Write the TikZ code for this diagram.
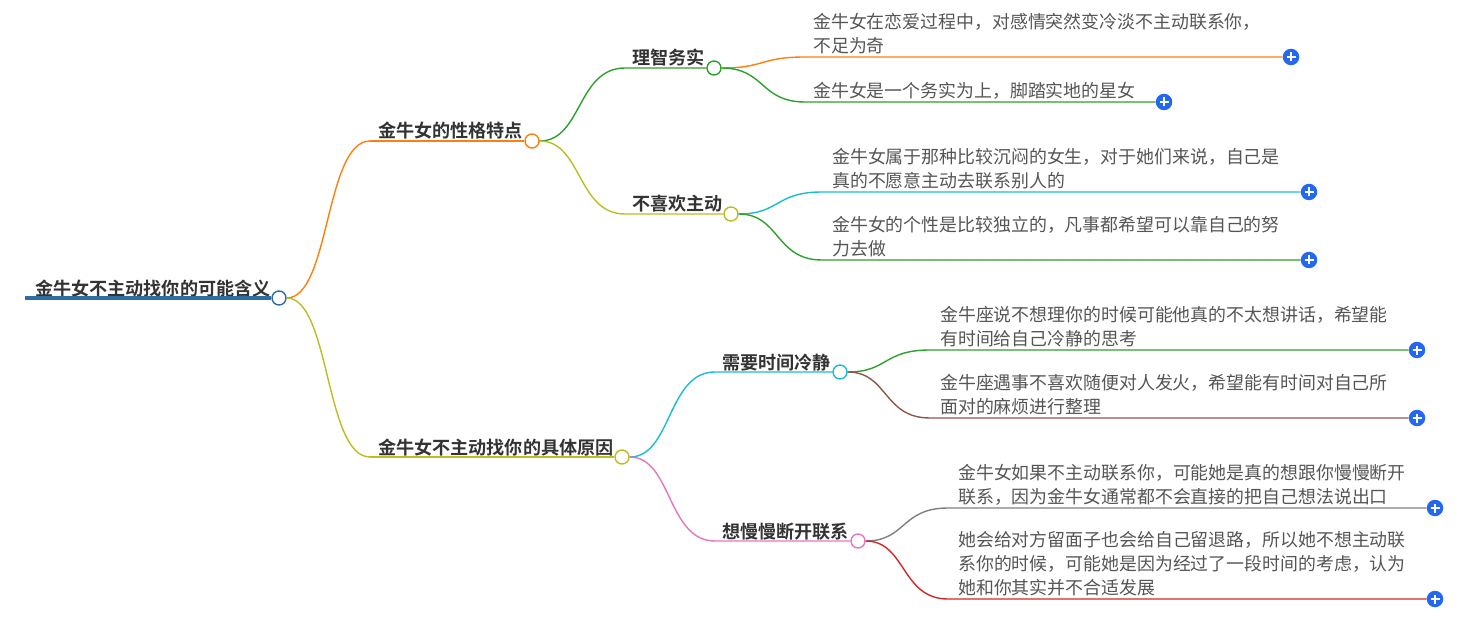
\documentclass[tikz,border=0pt]{standalone}
\usepackage{fontspec}
\setmainfont{Noto Sans CJK SC}[BoldFont={Noto Sans CJK SC Bold}]
\definecolor{cRoot}{HTML}{2E6DA4}
\definecolor{cOra}{HTML}{FF7F0E}
\definecolor{cYel}{HTML}{BCBD22}
\definecolor{cGre}{HTML}{2CA02C}
\definecolor{cCya}{HTML}{17BECF}
\definecolor{cPin}{HTML}{E377C2}
\definecolor{cBro}{HTML}{8C564B}
\definecolor{cGra}{HTML}{7F7F7F}
\definecolor{cRed}{HTML}{D62728}
\definecolor{cPlus}{HTML}{2468F2}
\definecolor{cLab}{HTML}{333333}
\definecolor{cLeaf}{HTML}{555555}
\begin{document}
\begin{tikzpicture}[x=1pt,y=-1pt,
  lab/.style={anchor=base west,inner sep=0pt,text=cLab,font=\fontsize{18.1}{22}\selectfont\bfseries},
  leaf/.style={anchor=south west,inner sep=0pt,text depth=0pt,align=left,text=cLeaf,font=\fontsize{17.9}{24}\selectfont},
  dot/.style={circle,draw=#1,fill=white,line width=1.4pt,minimum size=14pt,inner sep=0pt},
  plusbtn/.style={circle,fill=cPlus,minimum size=16.5pt,inner sep=0pt,
    path picture={\draw[white,line width=1.5pt]
      ([xshift=-4.5pt]path picture bounding box.center) -- ([xshift=4.5pt]path picture bounding box.center)
      ([yshift=-4.5pt]path picture bounding box.center) -- ([yshift=4.5pt]path picture bounding box.center);}},
  con/.style={draw=#1,line width=1.4pt}
]
\useasboundingbox (0,0) rectangle (1475,620);

% root
\node[lab] (root) at (35,296) {金牛女不主动找你的可能含义};
\coordinate (rs) at (25,298);
\node[dot=cRoot] (rc) at (279,298) {};
\draw[cRoot,line width=4pt] (rs) -- (rc.west);

% level 1
\node[lab] (a) at (378,138) {金牛女的性格特点};
\coordinate (as) at (370,141);
\node[dot=cOra] (ac) at (532,141) {};
\draw[con=cOra] (rc.east) .. controls (330,298) and (325,141) .. (as);
\draw[cOra,line width=2.4pt] (as) -- (ac.west);

\node[lab] (b) at (378,454) {金牛女不主动找你的具体原因};
\coordinate (bs) at (370,457);
\node[dot=cYel] (bc) at (622,457) {};
\draw[con=cYel] (rc.east) .. controls (330,298) and (325,457) .. (bs);
\draw[cYel,line width=2.4pt] (bs) -- (bc.west);

% level 2
\node[lab] (a1) at (632,65) {理智务实};
\coordinate (a1s) at (625,68);
\node[dot=cGre] (a1c) at (714,68) {};
\draw[con=cGre] (ac.east) .. controls (582,141) and (577,68) .. (a1s) -- (a1c.west);

\node[lab] (a2) at (632,211) {不喜欢主动};
\coordinate (a2s) at (625,214);
\node[dot=cYel] (a2c) at (731,214) {};
\draw[con=cYel] (ac.east) .. controls (582,141) and (577,214) .. (a2s) -- (a2c.west);

\node[lab] (b1) at (722,369) {需要时间冷静};
\coordinate (b1s) at (715,372);
\node[dot=cCya] (b1c) at (840,372) {};
\draw[con=cCya] (bc.east) .. controls (672,457) and (667,372) .. (b1s) -- (b1c.west);

\node[lab] (b2) at (722,538) {想慢慢断开联系};
\coordinate (b2s) at (715,541);
\node[dot=cPin] (b2c) at (858,541) {};
\draw[con=cPin] (bc.east) .. controls (672,457) and (667,541) .. (b2s) -- (b2c.west);

% leaves of 理智务实
\node[leaf] (l1) at (813,52.5) {金牛女在恋爱过程中，对感情突然变冷淡不主动联系你，\\不足为奇};
\coordinate (l1s) at (805,57);
\node[plusbtn] (p1) at (1291,57) {};
\draw[con=cOra] (a1c.east) .. controls (765,68) and (760,57) .. (l1s) -- (p1.west);

\node[leaf] (l2) at (813,97.5) {金牛女是一个务实为上，脚踏实地的星女};
\coordinate (l2s) at (805,102);
\node[plusbtn] (p2) at (1164,102) {};
\draw[con=cGre] (a1c.east) .. controls (765,68) and (760,102) .. (l2s) -- (p2.west);

% leaves of 不喜欢主动
\node[leaf] (l3) at (832,187.5) {金牛女属于那种比较沉闷的女生，对于她们来说，自己是\\真的不愿意主动去联系别人的};
\coordinate (l3s) at (822,192);
\node[plusbtn] (p3) at (1309,192) {};
\draw[con=cCya] (a2c.east) .. controls (780,214) and (775,192) .. (l3s) -- (p3.west);

\node[leaf] (l4) at (832,255.5) {金牛女的个性是比较独立的，凡事都希望可以靠自己的努\\力去做};
\coordinate (l4s) at (822,260);
\node[plusbtn] (p4) at (1309,260) {};
\draw[con=cGre] (a2c.east) .. controls (780,214) and (775,260) .. (l4s) -- (p4.west);

% leaves of 需要时间冷静
\node[leaf] (l5) at (940,345.5) {金牛座说不想理你的时候可能他真的不太想讲话，希望能\\有时间给自己冷静的思考};
\coordinate (l5s) at (930,350);
\node[plusbtn] (p5) at (1417,350) {};
\draw[con=cGre] (b1c.east) .. controls (888,372) and (883,350) .. (l5s) -- (p5.west);

\node[leaf] (l6) at (940,413.5) {金牛座遇事不喜欢随便对人发火，希望能有时间对自己所\\面对的麻烦进行整理};
\coordinate (l6s) at (930,418);
\node[plusbtn] (p6) at (1417,418) {};
\draw[con=cBro] (b1c.east) .. controls (888,372) and (883,418) .. (l6s) -- (p6.west);

% leaves of 想慢慢断开联系
\node[leaf] (l7) at (958,503.5) {金牛女如果不主动联系你，可能她是真的想跟你慢慢断开\\联系，因为金牛女通常都不会直接的把自己想法说出口};
\coordinate (l7s) at (948,508);
\node[plusbtn] (p7) at (1435,508) {};
\draw[con=cGra] (b2c.east) .. controls (906,541) and (901,508) .. (l7s) -- (p7.west);

\node[leaf] (l8) at (958,594.5) {她会给对方留面子也会给自己留退路，所以她不想主动联\\系你的时候，可能她是因为经过了一段时间的考虑，认为\\她和你其实并不合适发展};
\coordinate (l8s) at (948,599);
\node[plusbtn] (p8) at (1435,599) {};
\draw[con=cRed] (b2c.east) .. controls (906,541) and (901,599) .. (l8s) -- (p8.west);
\end{tikzpicture}
\end{document}
